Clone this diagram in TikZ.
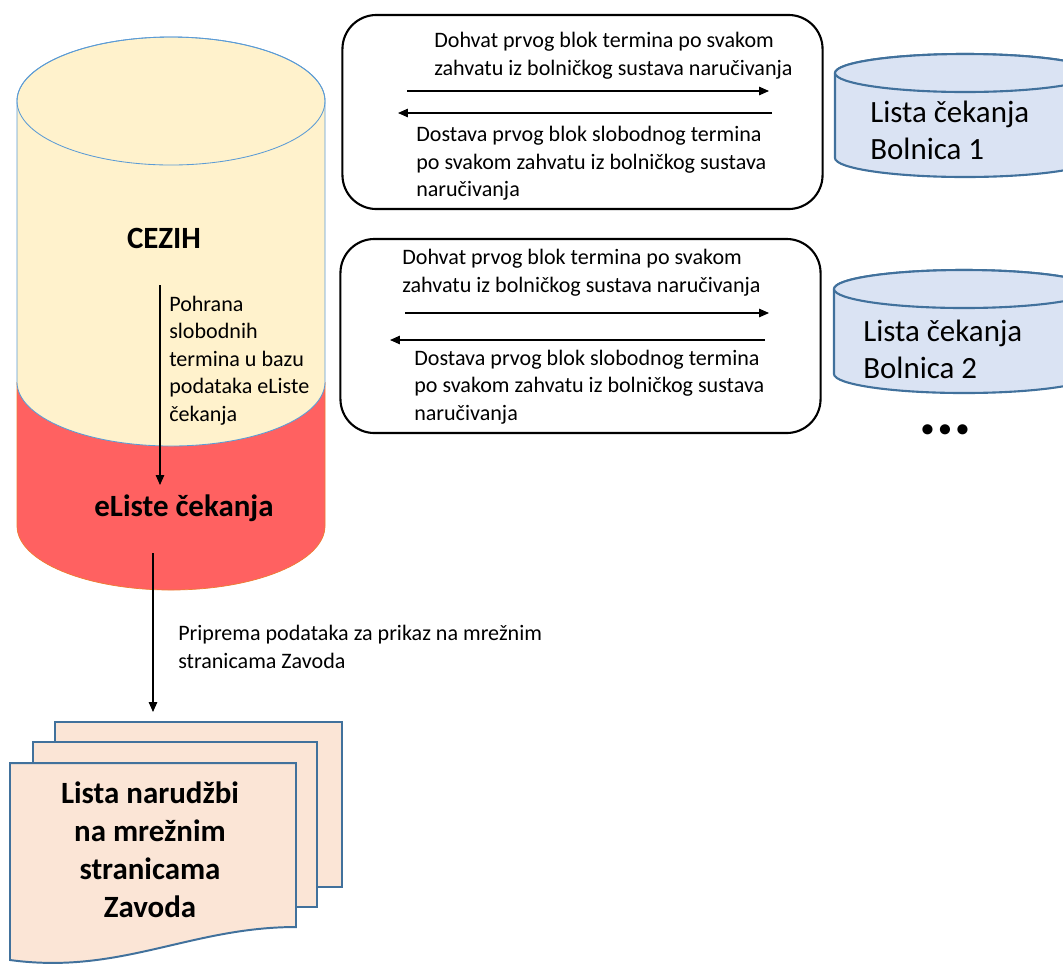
\documentclass[tikz,border=0pt]{standalone}
\usepackage{fontspec}
\setmainfont{Carlito}
\usepackage{tikz}
\usetikzlibrary{arrows.meta,calc,positioning}
\definecolor{Krem}{RGB}{255,242,204}
\definecolor{Rubin}{RGB}{255,97,97}
\definecolor{Obrub}{RGB}{91,155,213}
\definecolor{Narancasta}{RGB}{237,125,49}
\definecolor{Plava}{RGB}{65,113,156}
\definecolor{Nebo}{RGB}{218,227,243}
\definecolor{Breskva}{RGB}{251,229,214}

\begin{document}
\begin{tikzpicture}[x=0.025cm,y=0.025cm,
  opis/.style={font=\fontsize{15.7}{19.6}\selectfont, align=left, inner sep=0pt},
  naslov/.style={font=\fontsize{22}{27}\selectfont\bfseries, align=center, inner sep=0pt},
  bazatekst/.style={font=\fontsize{22}{26.5}\selectfont, align=left, inner sep=0pt},
  strelica/.style={-{Triangle[length=7pt,width=6pt]}, line width=0.8pt},
  okvir/.style={draw, line width=1.5pt, rounded corners=0.85cm, minimum width=12cm, minimum height=4.85cm},
  baza/.style={draw=Plava, fill=Nebo, line width=1.5pt},
  stranica/.style={draw=Plava, fill=Breskva, line width=1.4pt}]
\useasboundingbox (0,0) rectangle (1063,-963);
\clip (0,0) rectangle (1063,-963);
%
% CEZIH
\fill[Rubin] (17,-382) -- (17,-526) arc[start angle=180,end angle=360,x radius=154,y radius=64] -- (325,-382) arc[start angle=0,end angle=-180,x radius=154,y radius=64] -- cycle;
\draw[Narancasta,line width=0.5pt] (17,-382) -- (17,-526) arc[start angle=180,end angle=360,x radius=154,y radius=64] -- (325,-382);
\draw[Obrub,fill=Krem,line width=0.6pt] (17,-101) -- (17,-382) arc[start angle=180,end angle=360,x radius=154,y radius=64] -- (325,-101) arc[start angle=0,end angle=180,x radius=154,y radius=64] -- cycle;
\draw[Obrub,line width=0.6pt] (171,-101) ellipse[x radius=154,y radius=64];
\node[naslov] (cezih) at (164,-238) {CEZIH};
\node[naslov] (eliste) at (184,-508) {eListe čekanja};
\coordinate (pohranaA) at (160,-285);
\coordinate (pohranaB) at (160,-485);
\draw[strelica] (pohranaA) -- (pohranaB);
\node[opis, anchor=west] (pohrana) at (169,-360.5) {Pohrana\\slobodnih\\termina u bazu\\podataka eListe\\čekanja};
%
% prikaz
\coordinate (prikazA) at (153,-553);
\coordinate (prikazB) at (153,-712);
\draw[strelica] (prikazA) -- (prikazB);
\node[opis, anchor=west] (priprema) at (178,-647) {Priprema podataka za prikaz na mrežnim\\stranicama Zavoda};
\draw[stranica] (55,-722) rectangle (342,-887);
\draw[stranica] (33,-742) rectangle (317,-907);
\draw[stranica] (10,-763) -- (296,-763) -- (296,-927) .. controls (190,-927) and (120,-975) .. (10,-960) -- cycle;
\node[naslov] (narudzbe) at (150,-850) {Lista narudžbi\\na mrežnim\\stranicama\\Zavoda};
%
% Bolnica 1
\node[okvir] (veza1) at (582.5,-112) {};
\node[opis, anchor=west] (dohvat1) at (434,-55.5) {Dohvat prvog blok termina po svakom\\zahvatu iz bolničkog sustava naručivanja};
\node[opis, anchor=west] (dostava1) at (416,-163.5) {Dostava prvog blok slobodnog termina\\po svakom zahvatu iz bolničkog sustava\\naručivanja};
\coordinate (dohvat1A) at (407,-91);
\coordinate (dohvat1B) at (769,-91);
\coordinate (dostava1A) at (772,-113);
\coordinate (dostava1B) at (398,-113);
\draw[strelica] (dohvat1A) -- (dohvat1B);
\draw[strelica] (dostava1A) -- (dostava1B);
\draw[baza] (835,-73) -- (835,-158) arc[start angle=180,end angle=360,x radius=130,y radius=19] -- (1095,-73) arc[start angle=0,end angle=180,x radius=130,y radius=19] -- cycle;
\draw[baza] (965,-73) ellipse[x radius=130,y radius=19];
\node[bazatekst, anchor=west] (bolnica1) at (870,-130) {Lista čekanja\\Bolnica 1};
%
% Bolnica 2
\node[okvir] (veza2) at (580.5,-336) {};
\node[opis, anchor=west] (dohvat2) at (402,-273) {Dohvat prvog blok termina po svakom\\zahvatu iz bolničkog sustava naručivanja};
\node[opis, anchor=west] (dostava2) at (414,-387) {Dostava prvog blok slobodnog termina\\po svakom zahvatu iz bolničkog sustava\\naručivanja};
\coordinate (dohvat2A) at (405,-313);
\coordinate (dohvat2B) at (769,-313);
\coordinate (dostava2A) at (765,-340);
\coordinate (dostava2B) at (390,-340);
\draw[strelica] (dohvat2A) -- (dohvat2B);
\draw[strelica] (dostava2A) -- (dostava2B);
\draw[baza] (834,-289) -- (834,-374) arc[start angle=180,end angle=360,x radius=130,y radius=19] -- (1094,-289) arc[start angle=0,end angle=180,x radius=130,y radius=19] -- cycle;
\draw[baza] (964,-289) ellipse[x radius=130,y radius=19];
\node[bazatekst, anchor=west] (bolnica2) at (863,-349) {Lista čekanja\\Bolnica 2};
\node[font=\fontsize{17}{20}\selectfont\bfseries, inner sep=0pt] (jos) at (945,-431) {•\hspace{4pt}•\hspace{4pt}•};
%
\end{tikzpicture}
\end{document}
